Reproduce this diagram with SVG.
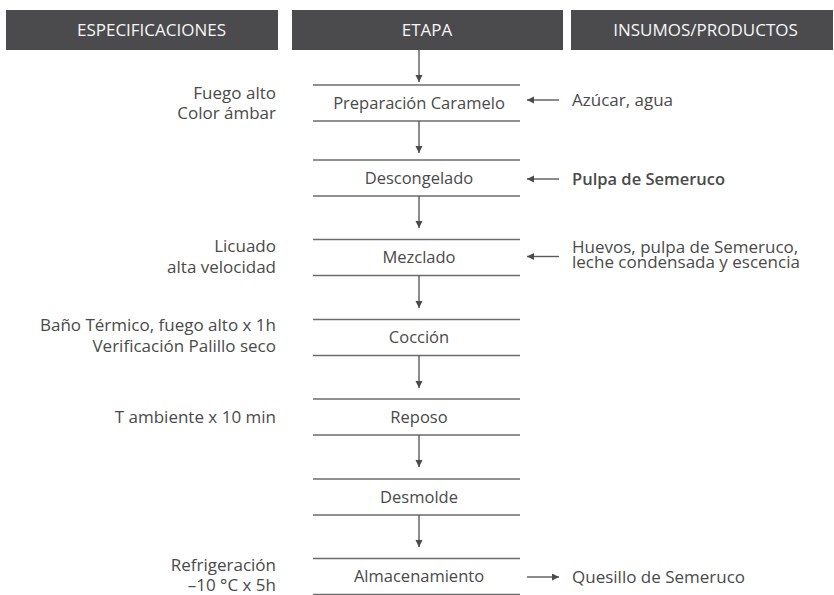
<svg xmlns="http://www.w3.org/2000/svg" width="834" height="595" viewBox="0 0 834 595">
<style>
  .hdr { fill: #4b4b4d; }
  .htxt { font-family: "Open Sans", "Liberation Sans", sans-serif; font-size: 17px; fill: #f6f6f6; text-anchor: middle; }
  .bar { stroke: #6b6b6b; stroke-width: 1.6; fill: none; }
  .lbl { font-family: "Open Sans", "Liberation Sans", sans-serif; font-size: 16.5px; fill: #4a4a4a; text-anchor: middle; }
  .spec { font-family: "Open Sans", "Liberation Sans", sans-serif; font-size: 17px; fill: #4a4a4a; text-anchor: end; }
  .ins { font-family: "Open Sans", "Liberation Sans", sans-serif; font-size: 17px; fill: #4a4a4a; text-anchor: start; }
  .b { font-weight: 600; font-size: 16.5px; }
  .con { stroke: #5a5a5a; stroke-width: 1.4; fill: none; marker-end: url(#ah); }
</style>
<defs>
  <marker id="ah" markerUnits="userSpaceOnUse" markerWidth="8" markerHeight="8" refX="7" refY="3.5" orient="auto">
    <path d="M0,0 L7,3.5 L0,7 z" fill="#4a4a4a"/>
  </marker>
</defs>
<rect width="834" height="595" fill="#ffffff"/>

<g id="headers">
  <rect class="hdr" x="6" y="10" width="272" height="40"/>
  <rect class="hdr" x="292" y="10" width="271" height="40"/>
  <rect class="hdr" x="571" y="10" width="262" height="40"/>
  <text class="htxt" x="151.5" y="36">ESPECIFICACIONES</text>
  <text class="htxt" x="427" y="36">ETAPA</text>
  <text class="htxt" x="705.5" y="36">INSUMOS/PRODUCTOS</text>
</g>

<g id="step1">
  <line class="bar" x1="313" y1="85" x2="520" y2="85"/>
  <line class="bar" x1="313" y1="121" x2="520" y2="121"/>
  <text class="lbl" x="419" y="108.5">Preparación Caramelo</text>
</g>
<g id="step2">
  <line class="bar" x1="313" y1="160" x2="520" y2="160"/>
  <line class="bar" x1="313" y1="196" x2="520" y2="196"/>
  <text class="lbl" x="419" y="183.5">Descongelado</text>
</g>
<g id="step3">
  <line class="bar" x1="313" y1="239.5" x2="520" y2="239.5"/>
  <line class="bar" x1="313" y1="275.5" x2="520" y2="275.5"/>
  <text class="lbl" x="419" y="263">Mezclado</text>
</g>
<g id="step4">
  <line class="bar" x1="313" y1="319.5" x2="520" y2="319.5"/>
  <line class="bar" x1="313" y1="355.5" x2="520" y2="355.5"/>
  <text class="lbl" x="419" y="343">Cocción</text>
</g>
<g id="step5">
  <line class="bar" x1="313" y1="399" x2="520" y2="399"/>
  <line class="bar" x1="313" y1="435" x2="520" y2="435"/>
  <text class="lbl" x="419" y="422.5">Reposo</text>
</g>
<g id="step6">
  <line class="bar" x1="313" y1="479" x2="520" y2="479"/>
  <line class="bar" x1="313" y1="515" x2="520" y2="515"/>
  <text class="lbl" x="419" y="502.5">Desmolde</text>
</g>
<g id="step7">
  <line class="bar" x1="313" y1="558.5" x2="520" y2="558.5"/>
  <line class="bar" x1="313" y1="594.5" x2="520" y2="594.5"/>
  <text class="lbl" x="419" y="582">Almacenamiento</text>
</g>

<g id="spec1">
  <text class="spec" x="276" y="99">Fuego alto<tspan x="276" dy="20">Color ámbar</tspan></text>
</g>
<g id="spec3">
  <text class="spec" x="276" y="252">Licuado<tspan x="276" dy="21">alta velocidad</tspan></text>
</g>
<g id="spec4">
  <text class="spec" x="276" y="331">Baño Térmico, fuego alto x 1h<tspan x="276" dy="21">Verificación Palillo seco</tspan></text>
</g>
<g id="spec5">
  <text class="spec" x="276" y="423">T ambiente x 10 min</text>
</g>
<g id="spec7">
  <text class="spec" x="276" y="571">Refrigeración<tspan x="276" dy="20">–10 °C x 5h</tspan></text>
</g>

<g id="in1">
  <text class="ins" x="572" y="106">Azúcar, agua</text>
</g>
<g id="in2">
  <text class="ins b" x="572" y="184.5">Pulpa de Semeruco</text>
</g>
<g id="in3">
  <text class="ins" x="572" y="252.5">Huevos, pulpa de Semeruco,<tspan x="572" dy="15.5">leche condensada y escencia</tspan></text>
</g>
<g id="out7">
  <text class="ins" x="572" y="583">Quesillo de Semeruco</text>
</g>

<g id="connectors">
  <line class="con" x1="419" y1="50" x2="419" y2="82"/>
  <line class="con" x1="419" y1="121" x2="419" y2="153"/>
  <line class="con" x1="419" y1="196" x2="419" y2="228"/>
  <line class="con" x1="419" y1="275.5" x2="419" y2="308"/>
  <line class="con" x1="419" y1="355.5" x2="419" y2="388"/>
  <line class="con" x1="419" y1="435" x2="419" y2="467"/>
  <line class="con" x1="419" y1="515" x2="419" y2="547"/>
  <line class="con" x1="559" y1="100" x2="527" y2="100"/>
  <line class="con" x1="559" y1="179" x2="527" y2="179"/>
  <line class="con" x1="559" y1="256.5" x2="527" y2="256.5"/>
  <line class="con" x1="527" y1="577" x2="559" y2="577"/>
</g>
</svg>
